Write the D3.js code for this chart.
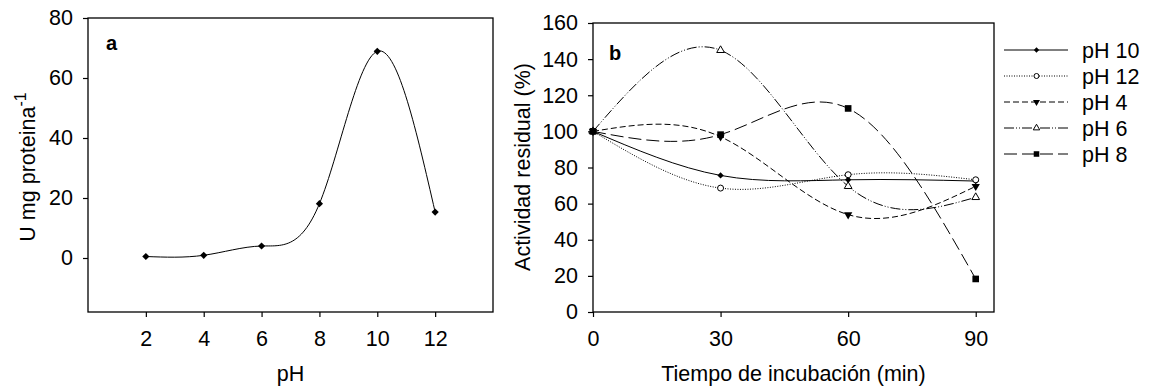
<!DOCTYPE html>
<html>
<head>
<meta charset="utf-8">
<script src="https://cdn.jsdelivr.net/npm/d3@7"></script>
<style>
  body { margin: 0; background: #fff; }
  text { font-family: "Liberation Sans", Arial, sans-serif; fill: #000; }
</style>
</head>
<body>
<div id="chart"></div>
<script>
// panel a data
const phA = [2, 4, 6, 8, 10, 12];
const actividadA = [0.5, 0.9, 4.0, 18.1, 68.9, 15.3];
const ticksXA = [2, 4, 6, 8, 10, 12];
const ticksYA = [0, 20, 40, 60, 80];

// panel b data
const tiempo = [0, 30, 60, 90];
const seriesNames = ["pH 10", "pH 12", "pH 4", "pH 6", "pH 8"];
const pH10 = [100, 75.6, 73.2, 72.5];
const pH12 = [100, 68.6, 76.0, 73.2];
const pH4 = [100, 97.0, 53.9, 69.6];
const pH6 = [100, 144.9, 69.6, 63.5];
const pH8 = [100, 98.2, 112.7, 18.3];
const ticksXB = [0, 30, 60, 90];
const ticksYB = [0, 20, 40, 60, 80, 100, 120, 140, 160];

const W = 1149, H = 392;
const fs = 21.5;

const svg = d3.select("#chart")
    .append("svg")
        .attr("width", W)
        .attr("height", H);

svg.append("rect").attr("width", W).attr("height", H).attr("fill", "#fff");

// marker drawers, k scales them (legend uses smaller ones)
const sym = {
    diamond: (g, k) => g.append("path").attr("d", d3.symbol(d3.symbolSquare, 20 * k)()).attr("transform", "rotate(45)").attr("fill", "#000"),
    circle: (g, k) => g.append("circle").attr("r", 3 * Math.sqrt(k)).attr("fill", "#fff").attr("stroke", "#000").attr("stroke-width", 1),
    triDown: (g, k) => g.append("path").attr("d", d3.symbol(d3.symbolTriangle, 30 * k)()).attr("transform", "rotate(180)").attr("fill", "#000"),
    triUp: (g, k) => g.append("path").attr("d", d3.symbol(d3.symbolTriangle, 26 * k)()).attr("fill", "#fff").attr("stroke", "#000").attr("stroke-width", 1),
    square: (g, k) => g.append("path").attr("d", d3.symbol(d3.symbolSquare, 44 * k)()).attr("fill", "#000")
};

function frame(x, y, left, right, top, bottom, tx, ty, pad) {
    // box
    svg.append("rect")
        .attr("x", left).attr("y", top)
        .attr("width", right - left).attr("height", bottom - top)
        .attr("fill", "none").attr("stroke", "#000").attr("stroke-width", 1.3);
    const gx = svg.append("g")
        .attr("transform", `translate(0,${bottom})`)
        .call(d3.axisBottom(x).tickValues(tx).tickSize(5).tickSizeOuter(0).tickPadding(14).tickFormat(d3.format("d")));
    const gy = svg.append("g")
        .attr("transform", `translate(${left},0)`)
        .call(d3.axisLeft(y).tickValues(ty).tickSize(5).tickSizeOuter(0).tickPadding(pad).tickFormat(d3.format("d")));
    [gx, gy].forEach(g => {
        g.select(".domain").remove();
        g.selectAll("line").attr("stroke", "#000").attr("stroke-width", 1.2);
        g.selectAll("text").style("font-size", fs + "px").style("font-family", "Liberation Sans, Arial, sans-serif").attr("fill", "#000");
    });
}

// ---------- panel a ----------
const xA = d3.scaleLinear().domain([0, 14]).range([88, 493]);
const yA = d3.scaleLinear().domain([-18, 80]).range([312, 18]);
frame(xA, yA, 88, 493, 18, 312, ticksXA, ticksYA, 10);

const lineA = d3.line()
    .x((d, i) => xA(phA[i]))
    .y(d => yA(d))
    .curve(d3.curveNatural);
svg.append("path")
    .attr("d", lineA(actividadA))
    .attr("fill", "none").attr("stroke", "#000").attr("stroke-width", 1);
actividadA.forEach((v, i) => {
    const g = svg.append("g").attr("transform", `translate(${xA(phA[i])},${yA(v)})`);
    sym.diamond(g, 1.3);
});

svg.append("text").attr("x", 106).attr("y", 50)
    .style("font-size", "20px").style("font-weight", "bold").text("a");
svg.append("text").attr("x", xA(7)).attr("y", 381)
    .attr("text-anchor", "middle").style("font-size", fs + "px").text("pH");
const labA = svg.append("text")
    .attr("transform", "translate(35,167) rotate(-90)")
    .attr("text-anchor", "middle").style("font-size", fs + "px");
labA.append("tspan").text("U mg proteina");
labA.append("tspan").attr("dy", -9).style("font-size", "16px").text("-1");

// ---------- panel b ----------
const xB = d3.scaleLinear().domain([0, 94.3]).range([593, 994]);
const yB = d3.scaleLinear().domain([0, 160]).range([312, 23]);
frame(xB, yB, 593, 994, 23, 312, ticksXB, ticksYB, 10);

const series = [
    {name: seriesNames[0], vals: pH10, dash: null, mark: "diamond"},
    {name: seriesNames[1], vals: pH12, dash: "1,1.5", mark: "circle"},
    {name: seriesNames[2], vals: pH4, dash: "6,3", mark: "triDown"},
    {name: seriesNames[3], vals: pH6, dash: "10,2,1,2,1,2", mark: "triUp"},
    {name: seriesNames[4], vals: pH8, dash: "13,5", mark: "square"}
];

const lineB = d3.line()
    .x((d, i) => xB(tiempo[i]))
    .y(d => yB(d))
    .curve(d3.curveNatural);

series.forEach(s => {
    svg.append("path")
        .attr("d", lineB(s.vals))
        .attr("fill", "none").attr("stroke", "#000").attr("stroke-width", 1)
        .attr("stroke-dasharray", s.dash);
});
series.forEach(s => {
    s.vals.forEach((v, i) => {
        const g = svg.append("g").attr("transform", `translate(${xB(tiempo[i])},${yB(v)})`);
        sym[s.mark](g, 1);
    });
});

svg.append("text").attr("x", 609).attr("y", 60)
    .style("font-size", "20px").style("font-weight", "bold").text("b");
svg.append("text").attr("x", (593 + 994) / 2).attr("y", 381)
    .attr("text-anchor", "middle").style("font-size", fs + "px").text("Tiempo de incubación (min)");
svg.append("text")
    .attr("transform", "translate(530,167) rotate(-90)")
    .attr("text-anchor", "middle").style("font-size", fs + "px").text("Actividad residual (%)");

// legend
const legend = svg.append("g");
series.forEach((s, i) => {
    const ly = 50 + i * 26;
    legend.append("line")
        .attr("x1", 1004).attr("x2", 1068).attr("y1", ly).attr("y2", ly)
        .attr("stroke", "#000").attr("stroke-width", 1)
        .attr("stroke-dasharray", s.dash);
    const g = legend.append("g").attr("transform", `translate(1036.5,${ly})`);
    sym[s.mark](g, 0.7);
    legend.append("text").attr("x", 1082).attr("y", ly).attr("dy", "0.35em")
        .style("font-size", fs + "px").text(s.name);
});
</script>
</body>
</html>
